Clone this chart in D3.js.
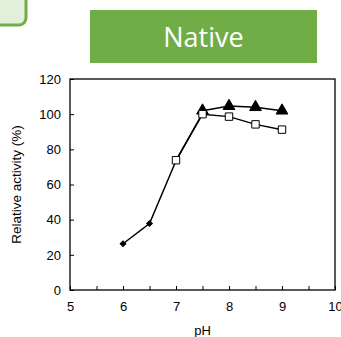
<!DOCTYPE html>
<html>
<head>
<meta charset="utf-8">
<script src="https://d3js.org/d3.v7.min.js"></script>
<style>
  body { margin: 0; background: #fff; }
  text { font-family: "Liberation Sans", Arial, sans-serif; }
</style>
</head>
<body>
<div id="chart"></div>
<script>
  // pH values and relative activity (%)
  const phDiamond = [6, 6.5, 7, 7.5]
  const actDiamond = [26.3, 37.8, 73.5, 100.5]
  const phSquare = [7, 7.5, 8, 8.5, 9]
  const actSquare = [73.8, 100, 98.6, 94.2, 91.2]
  const phTriangle = [7.5, 8, 8.5, 9]
  const actTriangle = [102, 104.6, 104, 102]

  const xTicks = [5, 6, 7, 8, 9, 10]
  const yTicks = [0, 20, 40, 60, 80, 100, 120]
  const title = "Native"

  const width = 341, height = 337
  const margin = { top: 79, right: 6, bottom: 47, left: 70 }

  const svg = d3.select("#chart").append("svg")
    .attr("width", width)
    .attr("height", height)

  // decorative box top-left
  svg.append("rect")
    .attr("x", -20).attr("y", -20)
    .attr("width", 46).attr("height", 45)
    .attr("rx", 7)
    .attr("fill", "#e2efda")
    .attr("stroke", "#70ad47")
    .attr("stroke-width", 3)

  // title banner
  svg.append("rect")
    .attr("x", 90).attr("y", 10)
    .attr("width", 227).attr("height", 53)
    .attr("fill", "#70ad47")
  svg.append("text")
    .attr("x", 203.5).attr("y", 47)
    .attr("text-anchor", "middle")
    .attr("fill", "#fff")
    .style("font-family", "'Open Sans', Lato, sans-serif")
    .style("font-size", "27px")
    .text(title)

  const x = d3.scaleLinear().domain([5, 10]).range([margin.left, width - margin.right])
  const y = d3.scaleLinear().domain([0, 120]).range([height - margin.bottom, margin.top])

  // frame
  svg.append("rect")
    .attr("x", x(5)).attr("y", y(120))
    .attr("width", x(10) - x(5)).attr("height", y(0) - y(120))
    .attr("fill", "none").attr("stroke", "#000").attr("stroke-width", 1.3)

  const xAxis = svg.append("g")
    .attr("transform", `translate(0,${y(0)})`)
    .call(d3.axisBottom(x).tickValues(d3.range(5, 10.01, 0.5))
      .tickSize(-4).tickPadding(12)
      .tickFormat(d => xTicks.includes(d) ? d : ""))
  const yAxis = svg.append("g")
    .attr("transform", `translate(${x(5)},0)`)
    .call(d3.axisLeft(y).tickValues(yTicks).tickSize(-4).tickPadding(9))

  for (const ax of [xAxis, yAxis]) {
    ax.select(".domain").remove()
    ax.selectAll("line").attr("stroke", "#000")
    ax.selectAll("text").attr("fill", "#000").style("font-size", "13px")
  }

  svg.append("text")
    .attr("x", (x(5) + x(10)) / 2).attr("y", 335)
    .attr("text-anchor", "middle")
    .style("font-size", "13px")
    .text("pH")

  svg.append("text")
    .attr("transform", `translate(21,${(y(0) + y(120)) / 2}) rotate(-90)`)
    .attr("text-anchor", "middle")
    .style("font-size", "13.5px")
    .text("Relative activity (%)")

  const line = d3.line().x(d => x(d[0])).y(d => y(d[1]))

  const series = [
    { ph: phDiamond, act: actDiamond, sym: d3.symbolSquare, size: 16, rot: 45, fill: "#000" },
    { ph: phTriangle, act: actTriangle, sym: d3.symbolTriangle, size: 60, rot: 0, fill: "#000" },
    { ph: phSquare, act: actSquare, sym: d3.symbolSquare, size: 55, rot: 0, fill: "#fff" }
  ]

  series.forEach(s => {
    const pts = s.ph.map((p, i) => [p, s.act[i]])
    svg.append("path")
      .datum(pts)
      .attr("d", line)
      .attr("fill", "none")
      .attr("stroke", "#000")
      .attr("stroke-width", 1.5)
  })

  series.forEach(s => {
    const pts = s.ph.map((p, i) => [p, s.act[i]])
    svg.selectAll(null)
      .data(pts).enter()
      .append("path")
      .attr("d", d3.symbol().type(s.sym).size(s.size))
      .attr("transform", d => `translate(${x(d[0])},${y(d[1])}) rotate(${s.rot})`)
      .attr("fill", s.fill)
      .attr("stroke", "#000")
      .attr("stroke-width", 1)
  })
</script>
</body>
</html>
